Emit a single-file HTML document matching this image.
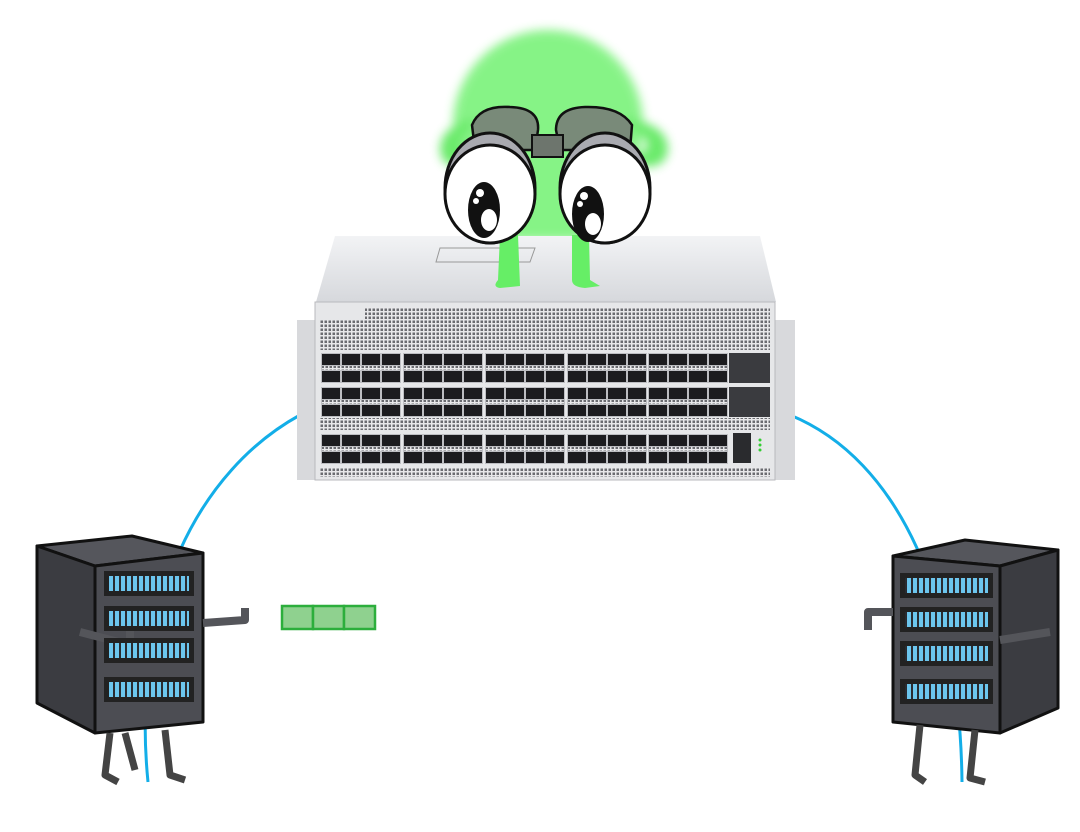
<!DOCTYPE html>
<html><head><style>html,body{margin:0;padding:0;background:#fff}svg{display:block}</style></head>
<body>
<svg width="1080" height="832" viewBox="0 0 1080 832" xmlns="http://www.w3.org/2000/svg">
<defs>
<filter id="blur" x="-30%" y="-30%" width="160%" height="160%"><feGaussianBlur stdDeviation="5"/></filter>
<linearGradient id="lid" x1="0" y1="0" x2="0" y2="1"><stop offset="0" stop-color="#f2f3f5"/><stop offset="1" stop-color="#d6d8dc"/></linearGradient>
<pattern id="vent" width="4" height="4" patternUnits="userSpaceOnUse"><rect width="4" height="4" fill="#e8e8ea"/><rect x="0.5" y="0.5" width="2.5" height="2.5" fill="#6a6b70"/></pattern>
<pattern id="leds" width="6" height="15" patternUnits="userSpaceOnUse"><rect width="6" height="15" fill="#2a2b30"/><rect x="1" y="0" width="4" height="15" fill="#6cc6ee"/></pattern>
<g id="grp">
  <rect x="0" y="0" width="80" height="30" fill="#bdbec2"/>
  <rect x="1" y="1" width="18" height="11" fill="#1c1c1f"/><rect x="21" y="1" width="18" height="11" fill="#1c1c1f"/><rect x="41" y="1" width="18" height="11" fill="#1c1c1f"/><rect x="61" y="1" width="18" height="11" fill="#1c1c1f"/>
  <rect x="1" y="18" width="18" height="11" fill="#1c1c1f"/><rect x="21" y="18" width="18" height="11" fill="#1c1c1f"/><rect x="41" y="18" width="18" height="11" fill="#1c1c1f"/><rect x="61" y="18" width="18" height="11" fill="#1c1c1f"/>
  <rect x="1" y="13" width="78" height="4" fill="url(#vent)"/>
</g>
</defs>

<path d="M300 415 C 200 470, 130 600, 148 782" fill="none" stroke="#13aee8" stroke-width="3"/>
<path d="M790 415 C 900 460, 960 600, 962 782" fill="none" stroke="#13aee8" stroke-width="3"/>

<g filter="url(#blur)" opacity="0.9">
<ellipse cx="548" cy="125" rx="95" ry="95" fill="#7af27a"/>
<path d="M478 118 Q440 125 440 150 Q442 172 470 165 L470 155 Q455 152 462 138 Z" fill="#5ae85a"/>
<path d="M620 118 Q668 122 668 150 Q665 172 635 165 L635 155 Q652 152 645 138 Z" fill="#5ae85a"/>
<rect x="505" y="170" width="85" height="70" fill="#7af27a"/>
</g>

<path d="M335 236 L760 236 L776 302 L316 302 Z" fill="url(#lid)"/>
<path d="M440 248 L535 248 L530 262 L436 262 Z" fill="none" stroke="#999" stroke-width="1"/>

<path d="M500 235 L498 280 Q492 287 500 288 L520 286 L518 235 Z" fill="#66ee66"/>
<path d="M572 235 L572 280 Q572 287 585 288 L600 286 L590 280 L589 235 Z" fill="#66ee66"/>

<path d="M472 125 Q480 105 510 107 Q540 108 538 130 L535 150 L475 150 Z" fill="#798a79" stroke="#111" stroke-width="2.5"/>
<path d="M556 130 Q556 108 585 107 Q620 106 632 125 L630 150 L560 150 Z" fill="#798a79" stroke="#111" stroke-width="2.5"/>
<rect x="532" y="135" width="31" height="22" fill="#6d756d" stroke="#111" stroke-width="2"/>
<ellipse cx="490" cy="188" rx="45" ry="55" fill="#a9aab0" stroke="#111" stroke-width="3"/>
<ellipse cx="605" cy="188" rx="45" ry="55" fill="#a9aab0" stroke="#111" stroke-width="3"/>
<ellipse cx="490" cy="194" rx="45" ry="49" fill="#fff" stroke="#111" stroke-width="3"/>
<ellipse cx="605" cy="194" rx="45" ry="49" fill="#fff" stroke="#111" stroke-width="3"/>
<ellipse cx="484" cy="210" rx="16" ry="28" fill="#111"/>
<ellipse cx="588" cy="214" rx="16" ry="28" fill="#111"/>
<circle cx="480" cy="193" r="4" fill="#fff"/><circle cx="476" cy="201" r="3" fill="#fff"/><ellipse cx="489" cy="220" rx="8" ry="11" fill="#fff"/>
<circle cx="584" cy="196" r="4" fill="#fff"/><circle cx="580" cy="204" r="3" fill="#fff"/><ellipse cx="593" cy="224" rx="8" ry="11" fill="#fff"/>

<rect x="297" y="320" width="20" height="160" fill="#d8d9dc"/>
<rect x="774" y="320" width="21" height="160" fill="#d8d9dc"/>
<rect x="315" y="302" width="460" height="178" fill="#e6e7e9" stroke="#b8b9bd"/>
<rect x="365" y="307" width="405" height="43" fill="url(#vent)"/>
<rect x="320" y="320" width="450" height="30" fill="url(#vent)"/>
<rect x="320" y="418" width="450" height="12" fill="url(#vent)"/>
<rect x="320" y="467" width="450" height="10" fill="url(#vent)"/>
<g>
<use href="#grp" x="321" y="353"/><use href="#grp" x="403" y="353"/><use href="#grp" x="485" y="353"/><use href="#grp" x="567" y="353"/><use href="#grp" x="648" y="353"/>
<use href="#grp" x="321" y="387"/><use href="#grp" x="403" y="387"/><use href="#grp" x="485" y="387"/><use href="#grp" x="567" y="387"/><use href="#grp" x="648" y="387"/>
<use href="#grp" x="321" y="434"/><use href="#grp" x="403" y="434"/><use href="#grp" x="485" y="434"/><use href="#grp" x="567" y="434"/><use href="#grp" x="648" y="434"/>
</g>
<rect x="729" y="353" width="41" height="30" fill="#3a3b3f"/>
<rect x="729" y="387" width="41" height="30" fill="#3a3b3f"/>
<rect x="733" y="433" width="18" height="30" fill="#2a2b2e"/>
<circle cx="760" cy="440" r="1.5" fill="#3c3"/><circle cx="760" cy="445" r="1.5" fill="#3c3"/><circle cx="760" cy="450" r="1.5" fill="#3c3"/>

<g stroke="#111" stroke-width="3" stroke-linejoin="round">
<path d="M37 546 L132 536 L203 553 L95 566 Z" fill="#55565c"/>
<path d="M37 546 L95 566 L95 733 L37 703 Z" fill="#3b3c41"/>
<path d="M95 566 L203 553 L203 722 L95 733 Z" fill="#4c4d53"/>
<path d="M110 733 L105 775 L118 782 M125 733 L135 770 M165 730 L170 775 L185 780" fill="none" stroke="#444" stroke-width="7"/>
<path d="M203 623 L245 620 L245 608 M80 632 L130 645 L130 630" fill="none" stroke="#54555a" stroke-width="8"/>
</g>
<g fill="#222">
<rect x="104" y="571" width="90" height="25"/><rect x="104" y="606" width="90" height="25"/><rect x="104" y="638" width="90" height="25"/><rect x="104" y="677" width="90" height="25"/>
</g>
<g fill="url(#leds)">
<rect x="109" y="576" width="80" height="15"/><rect x="109" y="611" width="80" height="15"/><rect x="109" y="643" width="80" height="15"/><rect x="109" y="682" width="80" height="15"/>
</g>

<g stroke="#111" stroke-width="3" stroke-linejoin="round">
<path d="M893 556 L965 540 L1058 550 L1000 566 Z" fill="#55565c"/>
<path d="M1000 566 L1058 550 L1058 708 L1000 733 Z" fill="#3b3c41"/>
<path d="M893 556 L1000 566 L1000 733 L893 722 Z" fill="#4c4d53"/>
<path d="M920 725 L915 775 L925 782 M975 730 L970 778 L985 782" fill="none" stroke="#444" stroke-width="7"/>
<path d="M893 612 L868 612 L868 630 M1000 640 L1050 632" fill="none" stroke="#54555a" stroke-width="8"/>
</g>
<g fill="#222">
<rect x="900" y="573" width="93" height="25"/><rect x="900" y="607" width="93" height="25"/><rect x="900" y="641" width="93" height="25"/><rect x="900" y="679" width="93" height="25"/>
</g>
<g fill="url(#leds)">
<rect x="905" y="578" width="83" height="15"/><rect x="905" y="612" width="83" height="15"/><rect x="905" y="646" width="83" height="15"/><rect x="905" y="684" width="83" height="15"/>
</g>

<g fill="#8fd18f" stroke="#2cae3c" stroke-width="2.5">
<rect x="282" y="606" width="31" height="23"/><rect x="313" y="606" width="31" height="23"/><rect x="344" y="606" width="31" height="23"/>
</g>
</svg>
</body></html>
